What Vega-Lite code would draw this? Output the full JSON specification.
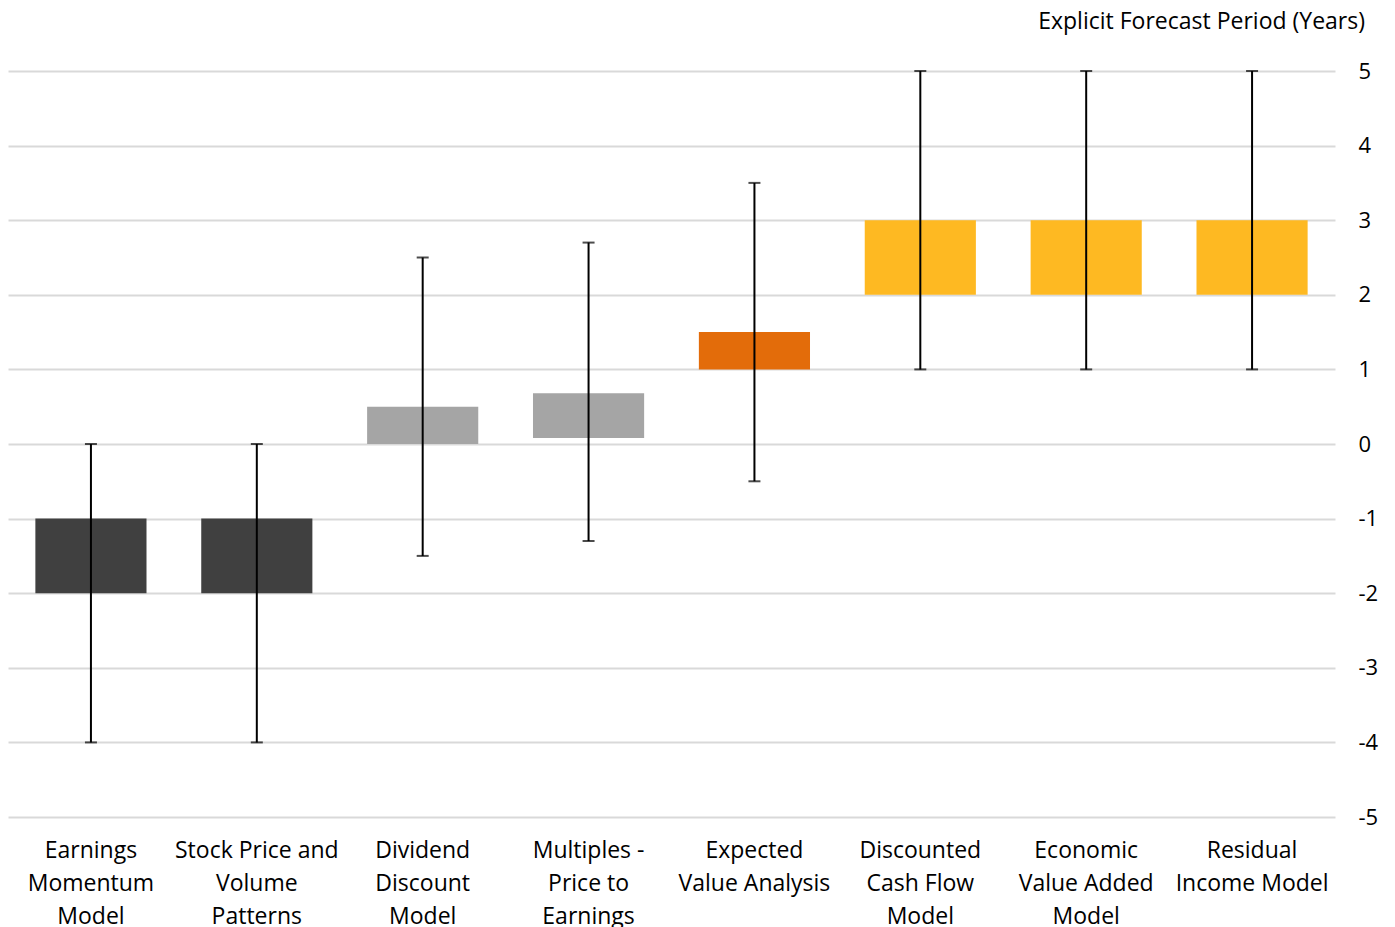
{
  "$schema": "https://vega.github.io/schema/vega-lite/v6.json",
  "autosize": "none",
  "width": 1327,
  "height": 746,
  "padding": {"left": 8, "top": 71, "right": 60, "bottom": 110},
  "background": "white",
  "config": {
    "view": {"stroke": null},
    "font": "Open Sans",
    "axis": {"labelFont": "Open Sans", "labelColor": "#000000"}
  },
  "title": {
    "text": "Explicit Forecast Period (Years)",
    "anchor": "end",
    "orient": "top",
    "frame": "group",
    "dx": 30,
    "offset": 26,
    "font": "Open Sans",
    "fontSize": 23,
    "fontWeight": "normal",
    "color": "#000000"
  },
  "data": {
    "values": [
      {"model": "Earnings Momentum Model", "low": -2, "high": -1, "errLow": -4, "errHigh": 0, "group": "dark"},
      {"model": "Stock Price and Volume Patterns", "low": -2, "high": -1, "errLow": -4, "errHigh": 0, "group": "dark"},
      {"model": "Dividend Discount Model", "low": 0, "high": 0.5, "errLow": -1.5, "errHigh": 2.5, "group": "gray"},
      {"model": "Multiples - Price to Earnings", "low": 0.08, "high": 0.68, "errLow": -1.3, "errHigh": 2.7, "group": "gray"},
      {"model": "Expected Value Analysis", "low": 1, "high": 1.5, "errLow": -0.5, "errHigh": 3.5, "group": "orange"},
      {"model": "Discounted Cash Flow Model", "low": 2, "high": 3, "errLow": 1, "errHigh": 5, "group": "yellow"},
      {"model": "Economic Value Added Model", "low": 2, "high": 3, "errLow": 1, "errHigh": 5, "group": "yellow"},
      {"model": "Residual Income Model", "low": 2, "high": 3, "errLow": 1, "errHigh": 5, "group": "yellow"}
    ]
  },
  "encoding": {
    "x": {
      "field": "model",
      "type": "nominal",
      "sort": null,
      "scale": {"paddingInner": 0.33, "paddingOuter": 0.165},
      "axis": {
        "title": null,
        "orient": "bottom",
        "domain": false,
        "ticks": false,
        "grid": false,
        "labelAngle": 0,
        "labelFontSize": 23,
        "labelPadding": 22,
        "labelLineHeight": 33,
        "labelBaseline": "top",
        "labelExpr": "datum.value == 'Earnings Momentum Model' ? ['Earnings','Momentum','Model'] : datum.value == 'Stock Price and Volume Patterns' ? ['Stock Price and','Volume','Patterns'] : datum.value == 'Dividend Discount Model' ? ['Dividend','Discount','Model'] : datum.value == 'Multiples - Price to Earnings' ? ['Multiples -','Price to','Earnings'] : datum.value == 'Expected Value Analysis' ? ['Expected','Value Analysis'] : datum.value == 'Discounted Cash Flow Model' ? ['Discounted','Cash Flow','Model'] : datum.value == 'Economic Value Added Model' ? ['Economic','Value Added','Model'] : ['Residual','Income Model']"
      }
    }
  },
  "layer": [
    {
      "mark": {"type": "bar", "cornerRadius": 0},
      "encoding": {
        "y": {
          "field": "low",
          "type": "quantitative",
          "scale": {"domain": [-5, 5], "nice": false, "zero": false},
          "axis": {
            "title": null,
            "orient": "right",
            "values": [-5, -4, -3, -2, -1, 0, 1, 2, 3, 4, 5],
            "labelExpr": "'' + datum.value",
            "domain": false,
            "ticks": false,
            "grid": true,
            "gridColor": "#D9D9D9",
            "gridWidth": 2,
            "labelFontSize": 22,
            "labelPadding": 23
          }
        },
        "y2": {"field": "high"},
        "color": {
          "field": "group",
          "type": "nominal",
          "scale": {
            "domain": ["dark", "gray", "orange", "yellow"],
            "range": ["#404040", "#A5A5A5", "#E36C0A", "#FEB922"]
          },
          "legend": null
        }
      }
    },
    {
      "mark": {"type": "rule", "color": "#000000", "strokeWidth": 2},
      "encoding": {
        "y": {"field": "errLow", "type": "quantitative"},
        "y2": {"field": "errHigh"}
      }
    },
    {
      "mark": {"type": "tick", "color": "#000000", "thickness": 2, "size": 12, "orient": "horizontal"},
      "encoding": {"y": {"field": "errLow", "type": "quantitative"}}
    },
    {
      "mark": {"type": "tick", "color": "#000000", "thickness": 2, "size": 12, "orient": "horizontal"},
      "encoding": {"y": {"field": "errHigh", "type": "quantitative"}}
    }
  ]
}
